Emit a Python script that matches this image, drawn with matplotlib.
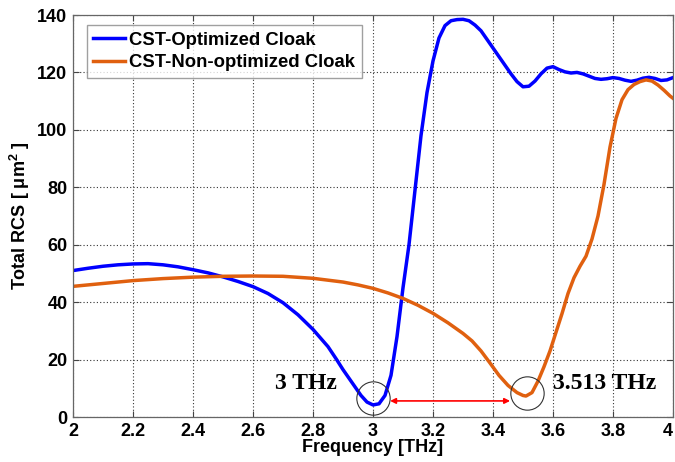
import matplotlib
matplotlib.use("Agg")
import matplotlib.pyplot as plt
from matplotlib.transforms import ScaledTranslation

plt.rcParams['font.family'] = ['Liberation Sans', 'DejaVu Sans']
plt.rcParams['mathtext.default'] = 'regular'

# Total RCS of the optimized cloak (CST)
freq_opt = [2.00, 2.05, 2.10, 2.15, 2.20, 2.25, 2.30, 2.35, 2.40, 2.45, 2.50, 2.55,
            2.60, 2.65, 2.70, 2.75, 2.80, 2.85, 2.88, 2.90, 2.93, 2.96, 2.98, 3.00,
            3.02, 3.04, 3.06, 3.08, 3.10, 3.12, 3.14, 3.16, 3.18, 3.20, 3.22, 3.24,
            3.26, 3.28, 3.30, 3.32, 3.34, 3.36, 3.38, 3.40, 3.42, 3.44, 3.46, 3.48,
            3.50, 3.52, 3.54, 3.56, 3.58, 3.60, 3.62, 3.64, 3.66, 3.68, 3.70, 3.72,
            3.74, 3.76, 3.78, 3.80, 3.82, 3.84, 3.86, 3.88, 3.90, 3.92, 3.94, 3.96,
            3.98, 4.00]
rcs_opt = [51.0, 51.8, 52.5, 53.0, 53.3, 53.4, 53.0, 52.3, 51.3, 50.2, 48.8, 47.2,
           45.4, 43.0, 39.8, 35.6, 30.5, 24.5, 19.8, 16.5, 12.0, 7.5, 5.2, 4.2,
           4.6, 7.5, 14.5, 28.0, 45.0, 60.0, 79.0, 98.0, 113.0, 124.0, 132.0, 136.3,
           138.0, 138.4, 138.5, 138.0, 136.5, 134.5, 131.5, 128.5, 125.5, 122.5, 119.5, 116.8,
           115.0, 115.2, 117.0, 119.5, 121.5, 122.0, 121.0, 120.2, 119.8, 120.0, 119.5, 118.7,
           117.9, 117.6, 117.8, 118.2, 117.9, 117.3, 116.9, 117.3, 118.0, 118.3, 117.9, 117.2,
           117.4, 118.2]

# Total RCS of the non-optimized cloak (CST)
freq_non = [2.00, 2.10, 2.20, 2.30, 2.40, 2.50, 2.60, 2.70, 2.80, 2.90, 2.95, 3.00,
            3.05, 3.10, 3.15, 3.20, 3.25, 3.30, 3.33, 3.36, 3.39, 3.42, 3.45, 3.48,
            3.50, 3.51, 3.53, 3.55, 3.57, 3.59, 3.61, 3.63, 3.65, 3.67, 3.69, 3.71,
            3.73, 3.75, 3.77, 3.79, 3.81, 3.83, 3.85, 3.87, 3.89, 3.91, 3.93, 3.95,
            3.97, 3.99, 4.00]
rcs_non = [45.5, 46.5, 47.5, 48.2, 48.7, 49.0, 49.1, 49.0, 48.3, 47.0, 46.0, 44.8,
           43.2, 41.3, 38.9, 36.1, 32.8, 29.1, 26.5, 23.0, 18.8, 14.5, 11.0, 8.5,
           7.5, 7.3, 8.5, 12.5, 17.5, 23.0, 29.5, 36.0, 43.0, 48.5, 52.5, 56.0,
           62.0, 70.0, 81.0, 94.0, 104.0, 110.5, 114.0, 115.8, 116.8, 117.4, 117.0, 115.6,
           113.8, 111.8, 111.0]

# Marked resonance minima
min_freqs = [3.0, 3.513]
min_labels = ["3 THz", "3.513 THz"]
min_marks = [6.5, 8.2]

xticks = [2, 2.2, 2.4, 2.6, 2.8, 3, 3.2, 3.4, 3.6, 3.8, 4]
xticklabels = ["2", "2.2", "2.4", "2.6", "2.8", "3", "3.2", "3.4", "3.6", "3.8", "4"]
yticks = [0, 20, 40, 60, 80, 100, 120, 140]

fig = plt.figure(figsize=(6.75, 4.62), dpi=100)
ax = fig.add_axes([73 / 675, 45 / 462, 600 / 675, 402 / 462])

ax.plot(freq_opt, rcs_opt, color='#0000FF', lw=2.5, label='CST-Optimized Cloak')
ax.plot(freq_non, rcs_non, color='#E0600F', lw=2.5, label='CST-Non-optimized Cloak')

ax.set_xlim(2, 4)
ax.set_ylim(0, 140)
ax.set_xticks(xticks)
ax.set_xticklabels(xticklabels)
ax.set_yticks(yticks)

ax.grid(True, color='#333333', linestyle=(0, (1, 2)), linewidth=0.8)
ax.tick_params(direction='in', top=True, right=True, length=4, width=0.8,
               labelsize=13, pad=4, colors='#444444', labelcolor='black')
for lab in ax.get_xticklabels() + ax.get_yticklabels():
    lab.set_fontweight('bold')
# keep the last x tick label inside the canvas
last = ax.get_xticklabels()[-1]
last.set_transform(last.get_transform() + ScaledTranslation(-5 / 100, 0, fig.dpi_scale_trans))

for sp in ax.spines.values():
    sp.set_color('#666666')
    sp.set_linewidth(0.9)

ax.set_xlabel('Frequency [THz]', fontsize=13, fontweight='bold')
ax.set_ylabel('Total RCS [ $\\mu m^2$ ]', fontsize=13, fontweight='bold')
ax.xaxis.set_label_coords(0.5, -0.055)
ax.yaxis.set_label_coords(-0.068, 0.5)

leg = ax.legend(loc='upper left', bbox_to_anchor=(0.023, 0.975),
                prop={'weight': 'bold', 'size': 13.3}, fancybox=False,
                handlelength=1.7, handletextpad=0.25, borderpad=0.35,
                labelspacing=0.3, borderaxespad=0)
leg.get_frame().set_edgecolor('#888888')
leg.get_frame().set_linewidth(1.0)

# circles around the two minima
ax.plot(min_freqs, min_marks, linestyle='none', marker='o', ms=24,
        mfc='none', mec='#333333', mew=0.8)

# double arrow between the minima
ax.annotate('', xy=(3.457, 5.6), xytext=(3.057, 5.6),
            arrowprops=dict(arrowstyle='<|-|>', color='#FF0000', lw=1.2,
                            mutation_scale=8, shrinkA=0, shrinkB=0))

ax.text(2.88, 11.8, min_labels[0], family='Liberation Serif', fontweight='bold',
        fontsize=17, ha='right', va='center')
ax.text(3.60, 11.8, min_labels[1], family='Liberation Serif', fontweight='bold',
        fontsize=17, ha='left', va='center')

fig.savefig('out.png', dpi=100)
